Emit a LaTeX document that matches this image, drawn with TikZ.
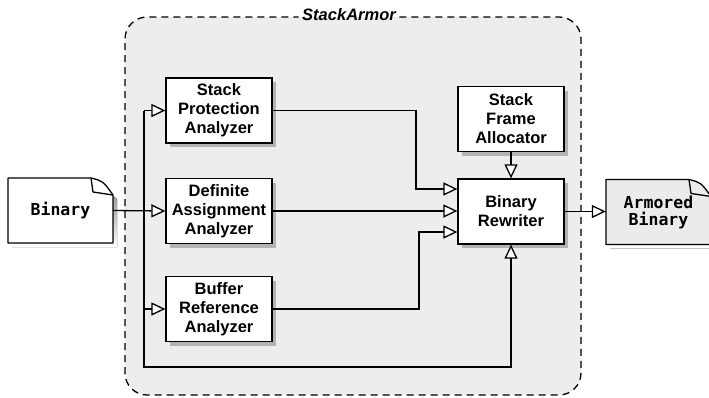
\documentclass[tikz,border=0pt]{standalone}
\usepackage{fontspec}
\setmainfont{Liberation Sans}
\newfontfamily\codefont{DejaVu Sans Mono}
\usetikzlibrary{arrows.meta,shadows,calc}

\definecolor{panel}{HTML}{EDEDED}
\definecolor{shade}{HTML}{B3B3B3}
\definecolor{docgrey}{HTML}{EBEBEB}

% Document symbol with a folded top-right corner, centred on #1, filled with #2
\newcommand\paperdoc[2]{%
  \begin{scope}[shift={(#1)}]
    \fill[shade] (-48.5,-28.5) -- (34.5,-28.5) -- (56.5,-11.5) -- (56.5,36.5) -- (-48.5,36.5) -- cycle;
    \draw[line width=1.3pt, line join=round, fill=#2]
      (-52.5,-32.5) -- (30.5,-32.5) .. controls (42.5,-29.5) .. (52.5,-15.5)
      -- (52.5,32.5) -- (-52.5,32.5) -- cycle;
    \draw[line width=1.3pt, line join=round, fill=#2]
      (30.5,-32.5) -- (32.5,-18.5) -- (52.5,-15.5);
  \end{scope}}

\begin{document}
\begin{tikzpicture}[x=1pt, y=-1pt,
  boxfont/.style={font=\fontsize{16.5}{19}\selectfont\bfseries},
  comp/.style={boxfont, draw, line width=1.3pt, fill=white, align=center,
    minimum width=106pt, minimum height=65pt, inner sep=0pt,
    drop shadow={shadow xshift=4pt, shadow yshift=-4pt, fill=shade, opacity=1}},
  doclabel/.style={font=\fontsize{16.5}{17}\selectfont\codefont\bfseries, align=center,
    minimum width=105pt, minimum height=65pt, inner sep=0pt},
  wire/.style={line width=1.3pt},
  flow/.style={wire, -{Triangle[length=14pt, width=13pt, fill=white]}},
  border/.style={line width=1.3pt, dash pattern=on 7pt off 5pt, rounded corners=22pt}
]
\useasboundingbox (0,0) rectangle (709,397);

% StackArmor container
\fill[panel, rounded corners=22pt] (125,17) rectangle (581,395);
\node[boxfont, font=\fontsize{16.5}{19}\selectfont\bfseries\itshape, anchor=base] (title) at (349,20.5) {StackArmor};
\draw[border] (title.east |- 0,17) -- (581,17) -- (581,395) -- (125,395) -- (125,17) -- (title.west |- 0,17);

% Input and output documents
\coordinate (binC) at (60.5,210.5);
\coordinate (armC) at (658.5,212);
\paperdoc{binC}{white}
\paperdoc{armC}{docgrey}
\node[doclabel] (bin) at (binC) {Binary};
\node[doclabel] (arm) at (armC) {Armored\\Binary};

% Components
\node[comp] (spa) at (219,110.5) {Stack\\Protection\\Analyzer};
\node[comp] (daa) at (219,211) {Definite\\Assignment\\Analyzer};
\node[comp] (bra) at (219,309) {Buffer\\Reference\\Analyzer};
\node[comp] (sfa) at (511,119) {Stack\\Frame\\Allocator};
\node[comp] (brw) at (511,211.5) {Binary\\Rewriter};

% Bus feeding the binary to every analyzer and to the rewriter
\coordinate (busTop) at (144,110.5);
\coordinate (busBot) at (144,367);
\draw[flow] (bin.east) -- (daa.west);
\draw[flow] (busTop) -- (spa.west);
\draw[flow] (bra.west -| busTop) -- (bra.west);
\draw[flow] (busTop) -- (busBot) -| (brw.south);

% Analyzer results into the rewriter
\coordinate (k1) at (416,189);
\coordinate (k3) at (419,232);
\draw[flow] (spa.east) -| (k1) -- (k1 -| brw.west);
\draw[flow] (daa.east) -- (daa.east -| brw.west);
\draw[flow] (bra.east) -| (k3) -- (k3 -| brw.west);

\draw[flow] (sfa.south) -- (brw.north);
\draw[flow] (brw.east) -- (brw.east -| arm.west);
\end{tikzpicture}
\end{document}
